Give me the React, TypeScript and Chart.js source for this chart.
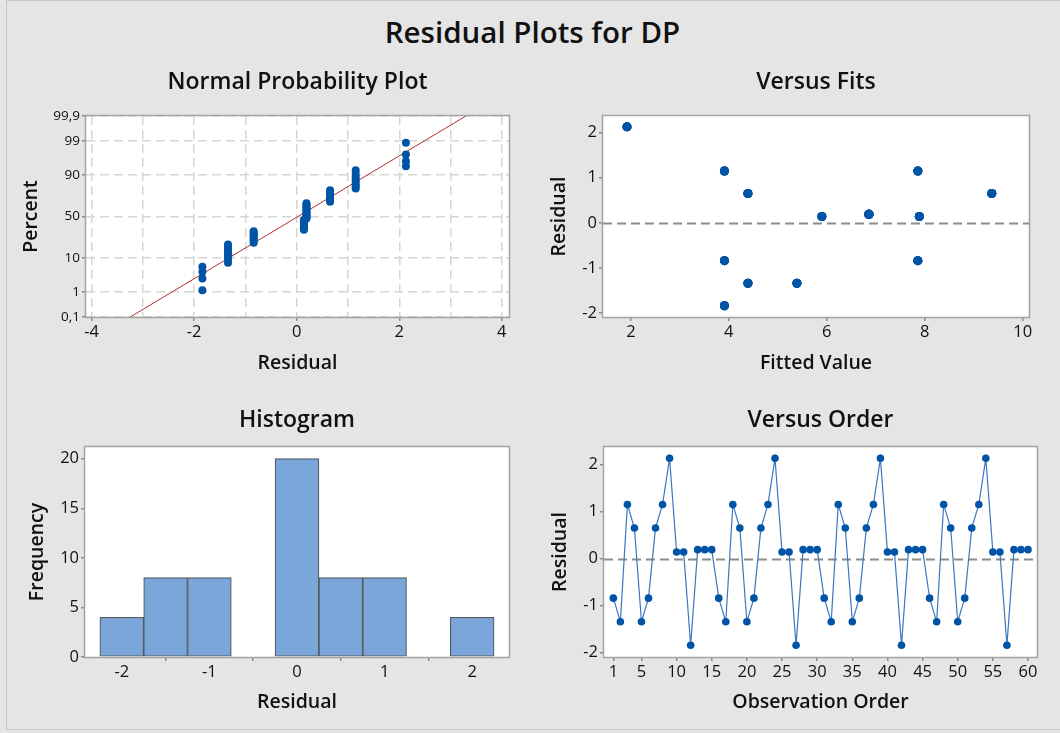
import React, { useEffect, useRef } from 'react';
import { Chart, registerables } from 'chart.js';

Chart.register(...registerables);

const FONT = "'Open Sans', 'Noto Sans', sans-serif";
Chart.defaults.font.family = FONT;
Chart.defaults.color = '#111111';

// ---------------- DATA ----------------
const mainTitle = 'Residual Plots for DP';

const residuals = [
  -0.84, -1.34, 1.15, 0.65, -1.34, -0.84, 0.65, 1.15, 2.13, 0.14, 0.14, -1.84, 0.19, 0.19, 0.19,
  -0.84, -1.34, 1.15, 0.65, -1.34, -0.84, 0.65, 1.15, 2.13, 0.14, 0.14, -1.84, 0.19, 0.19, 0.19,
  -0.84, -1.34, 1.15, 0.65, -1.34, -0.84, 0.65, 1.15, 2.13, 0.14, 0.14, -1.84, 0.19, 0.19, 0.19,
  -0.84, -1.34, 1.15, 0.65, -1.34, -0.84, 0.65, 1.15, 2.13, 0.14, 0.14, -1.84, 0.19, 0.19, 0.19,
];

const fittedValues = [
  3.91, 4.39, 3.91, 4.39, 5.39, 7.86, 9.37, 7.86, 1.92, 5.9, 7.89, 3.91, 6.86, 6.86, 6.86,
  3.91, 4.39, 3.91, 4.39, 5.39, 7.86, 9.37, 7.86, 1.92, 5.9, 7.89, 3.91, 6.86, 6.86, 6.86,
  3.91, 4.39, 3.91, 4.39, 5.39, 7.86, 9.37, 7.86, 1.92, 5.9, 7.89, 3.91, 6.86, 6.86, 6.86,
  3.91, 4.39, 3.91, 4.39, 5.39, 7.86, 9.37, 7.86, 1.92, 5.9, 7.89, 3.91, 6.86, 6.86, 6.86,
];

const histBinCenters = [-2, -1.5, -1, -0.5, 0, 0.5, 1, 1.5, 2];
const histCounts = [4, 8, 8, 0, 20, 8, 8, 0, 4];

const probTickPercents = [0.1, 1, 10, 50, 90, 99, 99.9];
const probTickLabels = ['0,1', '1', '10', '50', '90', '99', '99,9'];
const npXTicks = [-4, -3, -2, -1, 0, 1, 2, 3, 4];
const fitsXTicks = [2, 4, 6, 8, 10];
const residualTicks = [-2, -1, 0, 1, 2];
const histXTicks = [-2, -1, 0, 1, 2];
const histYTicks = [0, 5, 10, 15, 20];
const orderXTicks = [1, 5, 10, 15, 20, 25, 30, 35, 40, 45, 50, 55, 60];

// ---------------- HELPERS ----------------
function normInv(p: number): number {
  const a = [-3.969683028665376e1, 2.209460984245205e2, -2.759285104469687e2, 1.38357751867269e2, -3.066479806614716e1, 2.506628277459239];
  const b = [-5.447609879822406e1, 1.615858368580409e2, -1.556989798598866e2, 6.680131188771972e1, -1.328068155288572e1];
  const c = [-7.784894002430293e-3, -3.223964580411365e-1, -2.400758277161838, -2.549732539343734, 4.374664141464968, 2.938163982698783];
  const d = [7.784695709041462e-3, 3.224671290700398e-1, 2.445134137142996, 3.754408661907416];
  const pl = 0.02425;
  if (p < pl) {
    const q = Math.sqrt(-2 * Math.log(p));
    return (((((c[0] * q + c[1]) * q + c[2]) * q + c[3]) * q + c[4]) * q + c[5]) / ((((d[0] * q + d[1]) * q + d[2]) * q + d[3]) * q + 1);
  }
  if (p <= 1 - pl) {
    const q = p - 0.5;
    const r = q * q;
    return ((((((a[0] * r + a[1]) * r + a[2]) * r + a[3]) * r + a[4]) * r + a[5]) * q) / (((((b[0] * r + b[1]) * r + b[2]) * r + b[3]) * r + b[4]) * r + 1);
  }
  const q = Math.sqrt(-2 * Math.log(1 - p));
  return -(((((c[0] * q + c[1]) * q + c[2]) * q + c[3]) * q + c[4]) * q + c[5]) / ((((d[0] * q + d[1]) * q + d[2]) * q + d[3]) * q + 1);
}

type Rect = { x: number; y: number; w: number; h: number };
type Area = { l: number; t: number; r: number; b: number };

const TITLE_SIZE = 23;
const AXIS_TITLE_SIZE = 19.5;
const TICK_SIZE = 16.5;
const DOT = '#0054a6';
const TEXT = '#111111';

const framePlugin = {
  id: 'panelFrame',
  beforeDraw(chart: any) {
    const { ctx, chartArea: a } = chart;
    ctx.save();
    ctx.fillStyle = '#ffffff';
    ctx.fillRect(a.left, a.top, a.right - a.left, a.bottom - a.top);
    ctx.restore();
  },
  beforeDatasetsDraw(chart: any) {
    const opts = chart.options.plugins.panelFrame || {};
    if (!opts.zeroLine) return;
    const { ctx, chartArea: a } = chart;
    const y = Math.round(chart.scales.y.getPixelForValue(0)) + 0.5;
    ctx.save();
    ctx.strokeStyle = '#8c8c8c';
    ctx.lineWidth = 2;
    ctx.setLineDash([9, 5]);
    ctx.beginPath();
    ctx.moveTo(a.left, y);
    ctx.lineTo(a.right, y);
    ctx.stroke();
    ctx.restore();
  },
  afterDraw(chart: any) {
    const { ctx, chartArea: a } = chart;
    ctx.save();
    ctx.strokeStyle = '#a3a3a3';
    ctx.lineWidth = 1.5;
    ctx.strokeRect(a.left - 0.5, a.top - 0.5, a.right - a.left + 1, a.bottom - a.top + 1);
    ctx.restore();
  },
};

function makeOptions(
  canvas: Rect,
  area: Area,
  title: string,
  titleCY: number,
  xTitle: string,
  xTitleCY: number,
  yTitle: string,
  yTitleCX: number,
  x: any,
  y: any,
  extra: any = {}
) {
  const tlh = TITLE_SIZE * 1.2;
  const padTop = titleCY - canvas.y - tlh / 2;
  const padBottom = area.t - canvas.y - padTop - tlh;
  const alh = AXIS_TITLE_SIZE * 1.2;
  const yWidth = area.l - canvas.x;
  const xHeight = canvas.y + canvas.h - area.b;
  const axisTitleFont = { size: AXIS_TITLE_SIZE, weight: '600', family: FONT };
  const tickFont = { size: TICK_SIZE, family: FONT };
  return {
    responsive: false,
    animation: false,
    devicePixelRatio: 1,
    layout: { padding: { left: 0, top: 0, bottom: 0, right: canvas.x + canvas.w - area.r } },
    plugins: {
      legend: { display: false },
      tooltip: { enabled: false },
      title: {
        display: true,
        text: title,
        fullSize: false,
        color: TEXT,
        font: { size: TITLE_SIZE, weight: '600', family: FONT },
        padding: { top: padTop, bottom: padBottom },
      },
      panelFrame: extra,
    },
    scales: {
      x: {
        type: 'linear',
        position: 'bottom',
        min: x.min,
        max: x.max,
        offset: false,
        afterBuildTicks: (s: any) => {
          s.ticks = x.ticks.map((v: number) => ({ value: v }));
        },
        afterFit: (s: any) => {
          s.height = xHeight;
        },
        ticks: {
          autoSkip: false,
          maxRotation: 0,
          padding: 1,
          font: tickFont,
          color: TEXT,
          callback: x.label || ((v: number) => String(v)),
        },
        grid: {
          drawOnChartArea: !!x.grid,
          color: '#d6d6d6',
          lineWidth: 1.5,
          tickLength: 4,
          tickColor: x.tickColor || '#8a8a8a',
        },
        border: { display: false, dash: [9, 5] },
        title: {
          display: true,
          text: xTitle,
          font: axisTitleFont,
          color: TEXT,
          padding: { top: 0, bottom: canvas.y + canvas.h - xTitleCY - alh / 2 },
        },
      },
      y: {
        type: 'linear',
        position: 'left',
        min: y.min,
        max: y.max,
        afterBuildTicks: (s: any) => {
          s.ticks = y.ticks.map((v: number) => ({ value: v }));
        },
        afterFit: (s: any) => {
          s.width = yWidth;
        },
        ticks: {
          autoSkip: false,
          padding: 2,
          font: y.tickFont || tickFont,
          color: TEXT,
          callback: y.label || ((v: number) => String(v)),
        },
        grid: {
          drawOnChartArea: !!y.grid,
          color: '#d6d6d6',
          lineWidth: 1.5,
          tickLength: 4,
          tickColor: '#8a8a8a',
        },
        border: { display: false, dash: [9, 5] },
        title: {
          display: true,
          text: yTitle,
          font: axisTitleFont,
          color: TEXT,
          padding: { top: yTitleCX - canvas.x - alh / 2, bottom: 0 },
        },
      },
    },
  };
}

// ---------------- PANELS ----------------
const PANELS: { canvas: Rect; build: () => any }[] = [
  {
    canvas: { x: 0, y: 56, w: 535, h: 334 },
    build: () => {
      const n = residuals.length;
      const sorted = [...residuals].sort((p, q) => p - q);
      const pts = sorted.map((r, i) => ({ x: r, y: normInv((i + 1 - 0.3) / (n + 0.4)) }));
      const mean = residuals.reduce((s, v) => s + v, 0) / n;
      const sd = Math.sqrt(residuals.reduce((s, v) => s + (v - mean) * (v - mean), 0) / (n - 1));
      const zLo = normInv(0.001);
      const zHi = normInv(0.999);
      const zTicks = probTickPercents.map((p) => normInv(p / 100));
      return {
        type: 'scatter',
        data: {
          datasets: [
            {
              type: 'line',
              data: [
                { x: mean + sd * zLo, y: zLo },
                { x: mean + sd * zHi, y: zHi },
              ],
              borderColor: '#b0302b',
              borderWidth: 1,
              pointRadius: 0,
              order: 2,
            },
            {
              data: pts,
              pointRadius: 4,
              pointBackgroundColor: DOT,
              pointBorderWidth: 0,
              order: 1,
            },
          ],
        },
        options: makeOptions(
          { x: 0, y: 56, w: 535, h: 334 },
          { l: 86, t: 116, r: 509, b: 317 },
          'Normal Probability Plot',
          82,
          'Residual',
          363,
          'Percent',
          31,
          {
            min: -4.11,
            max: 4.14,
            ticks: npXTicks,
            grid: true,
            label: (v: number) => (v % 2 === 0 ? String(v) : ''),
            tickColor: (ctx: any) => (ctx.tick && ctx.tick.value % 2 === 0 ? '#8a8a8a' : 'rgba(0,0,0,0)'),
          },
          {
            min: zLo,
            max: zHi,
            ticks: zTicks,
            grid: true,
            tickFont: { size: 13.5, family: FONT },
            label: (v: number) => {
              const i = zTicks.findIndex((z) => Math.abs(z - v) < 1e-6);
              return i >= 0 ? probTickLabels[i] : '';
            },
          }
        ),
        plugins: [framePlugin],
      };
    },
  },
  {
    canvas: { x: 535, y: 56, w: 525, h: 334 },
    build: () => ({
      type: 'scatter',
      data: {
        datasets: [
          {
            data: fittedValues.map((f, i) => ({ x: f, y: residuals[i] })),
            pointRadius: 4.5,
            pointBackgroundColor: DOT,
            pointBorderWidth: 0,
          },
        ],
      },
      options: makeOptions(
        { x: 535, y: 56, w: 525, h: 334 },
        { l: 603, t: 116, r: 1029, b: 317 },
        'Versus Fits',
        82,
        'Fitted Value',
        363,
        'Residual',
        559,
        { min: 1.43, max: 10.13, ticks: fitsXTicks },
        { min: -2.09, max: 2.37, ticks: residualTicks },
        { zeroLine: true }
      ),
      plugins: [framePlugin],
    }),
  },
  {
    canvas: { x: 0, y: 394, w: 535, h: 339 },
    build: () => ({
      type: 'bar',
      data: {
        datasets: [
          {
            data: histBinCenters.map((c, i) => ({ x: c, y: histCounts[i] })),
            backgroundColor: '#7ba6d9',
            borderColor: '#545b63',
            borderWidth: 1.2,
            borderSkipped: false,
            barPercentage: 1,
            categoryPercentage: 1,
          },
        ],
      },
      options: makeOptions(
        { x: 0, y: 394, w: 535, h: 339 },
        { l: 85, t: 447, r: 509, b: 657 },
        'Histogram',
        420,
        'Residual',
        702,
        'Frequency',
        37,
        { min: -2.42, max: 2.42, ticks: histXTicks },
        { min: 0, max: 21.18, ticks: histYTicks }
      ),
      plugins: [framePlugin],
    }),
  },
  {
    canvas: { x: 535, y: 394, w: 525, h: 339 },
    build: () => ({
      type: 'line',
      data: {
        datasets: [
          {
            data: residuals.map((r, i) => ({ x: i + 1, y: r })),
            borderColor: '#3a78c0',
            borderWidth: 1.2,
            pointRadius: 3.8,
            pointBackgroundColor: DOT,
            pointBorderWidth: 0,
            tension: 0,
          },
        ],
      },
      options: makeOptions(
        { x: 535, y: 394, w: 525, h: 339 },
        { l: 604, t: 447, r: 1037, b: 657 },
        'Versus Order',
        420,
        'Observation Order',
        702,
        'Residual',
        560,
        { min: -0.33, max: 61.28, ticks: orderXTicks },
        { min: -2.09, max: 2.37, ticks: residualTicks },
        { zeroLine: true }
      ),
      plugins: [framePlugin],
    }),
  },
];

function Panel({ canvas, build }: { canvas: Rect; build: () => any }) {
  const ref = useRef<HTMLCanvasElement | null>(null);
  useEffect(() => {
    if (!ref.current) return;
    const chart = new Chart(ref.current, build());
    return () => chart.destroy();
  }, []);
  return (
    <canvas
      ref={ref}
      width={canvas.w}
      height={canvas.h}
      style={{ position: 'absolute', left: canvas.x, top: canvas.y, width: canvas.w, height: canvas.h }}
    />
  );
}

export default function App() {
  return (
    <div
      style={{
        position: 'fixed',
        left: 0,
        top: 0,
        width: 1060,
        height: 733,
        background: '#e5e5e5',
        overflow: 'hidden',
        fontFamily: FONT,
      }}
    >
      <div
        style={{
          position: 'absolute',
          left: 6,
          top: 0,
          width: 1060,
          height: 728,
          borderLeft: '1px solid #c6c6c6',
          borderTop: '1px solid #c6c6c6',
          borderBottom: '1px solid #c6c6c6',
        }}
      />
      <div
        style={{
          position: 'absolute',
          left: 0,
          top: 12,
          width: 1065,
          height: 40,
          lineHeight: '40px',
          textAlign: 'center',
          fontSize: 29.5,
          fontWeight: 600,
          color: '#111',
        }}
      >
        {mainTitle}
      </div>
      {PANELS.map((p, i) => (
        <Panel key={i} canvas={p.canvas} build={p.build} />
      ))}
    </div>
  );
}
